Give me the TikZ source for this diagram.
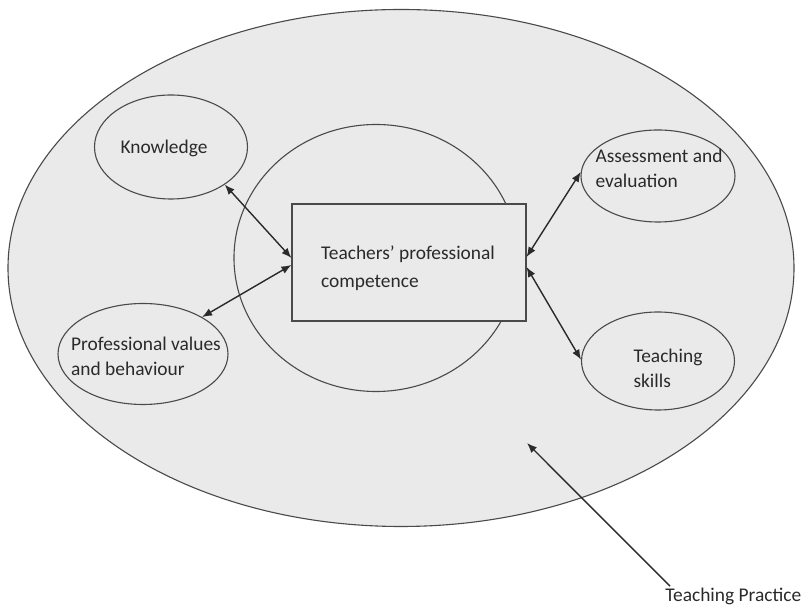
\documentclass[tikz,border=0pt]{standalone}
\usepackage{fontspec}
\setmainfont{Carlito}
\usetikzlibrary{shapes.geometric,arrows.meta}
\definecolor{bgfill}{HTML}{EAEAEA}
\definecolor{edge}{HTML}{4A4A4A}
\definecolor{ink}{HTML}{2A2A2A}
\begin{document}
\begin{tikzpicture}[x=0.5pt,y=-0.5pt,
  oval/.style={ellipse,draw=edge,line width=0.55pt,fill=bgfill,inner sep=0pt},
  lbl/.style={font=\fontsize{9.7}{12.5}\selectfont,text=ink,align=left,inner sep=0pt},
  dbl/.style={{Latex[length=5pt,width=4pt]}-{Latex[length=5pt,width=4pt]},line width=0.7pt,draw=ink},
  arr/.style={-{Latex[length=5pt,width=4pt]},line width=0.7pt,draw=ink}]
\useasboundingbox (0,0) rectangle (804,608);
\fill[white] (0,0) rectangle (804,608);
% outer and inner ovals
\node[oval,minimum width=393pt,minimum height=258.5pt] (outer) at (401,268) {};
\node[oval,minimum width=142pt,minimum height=133.5pt] (inner) at (376,258) {};
% satellite ovals
\node[oval,minimum width=76.5pt,minimum height=52pt] (know) at (171,147) {};
\node[oval,minimum width=77pt,minimum height=46pt] (assess) at (658,176) {};
\node[oval,minimum width=85pt,minimum height=50.5pt] (prof) at (143,354) {};
\node[oval,minimum width=76.5pt,minimum height=49pt] (skills) at (658,361) {};
% central box
\node[draw=edge,line width=0.55pt,fill=bgfill,minimum width=117pt,minimum height=58.5pt,inner sep=0pt] (box) at (409,262.5) {};
% texts
\node[lbl] (knowT) at (164,148) {Knowledge};
\node[lbl] (assessT) at (659,168) {Assessment and\\evaluation};
\node[lbl] (profT) at (146,356) {Professional values\\and behaviour};
\node[lbl] (skillsT) at (668,368) {Teaching\\skills};
\node[lbl,font=\fontsize{9.7}{14}\selectfont] (boxT) at (408,268) {Teachers’ professional\\competence};
\node[lbl,anchor=base west] (tp) at (665,602) {Teaching Practice};
% connectors
\draw[dbl] (know.-35) -- ([yshift=2.25pt]box.west);
\draw[dbl] (prof.32) -- ([yshift=-1.25pt]box.west);
\draw[dbl] (assess.177) -- ([yshift=2.75pt]box.east);
\draw[dbl] (skills.179) -- ([yshift=-2.25pt]box.east);
\coordinate (tpend) at (527,443);
\draw[arr] ([xshift=2.5pt,yshift=1pt]tp.north west) -- (tpend);
\end{tikzpicture}
\end{document}
